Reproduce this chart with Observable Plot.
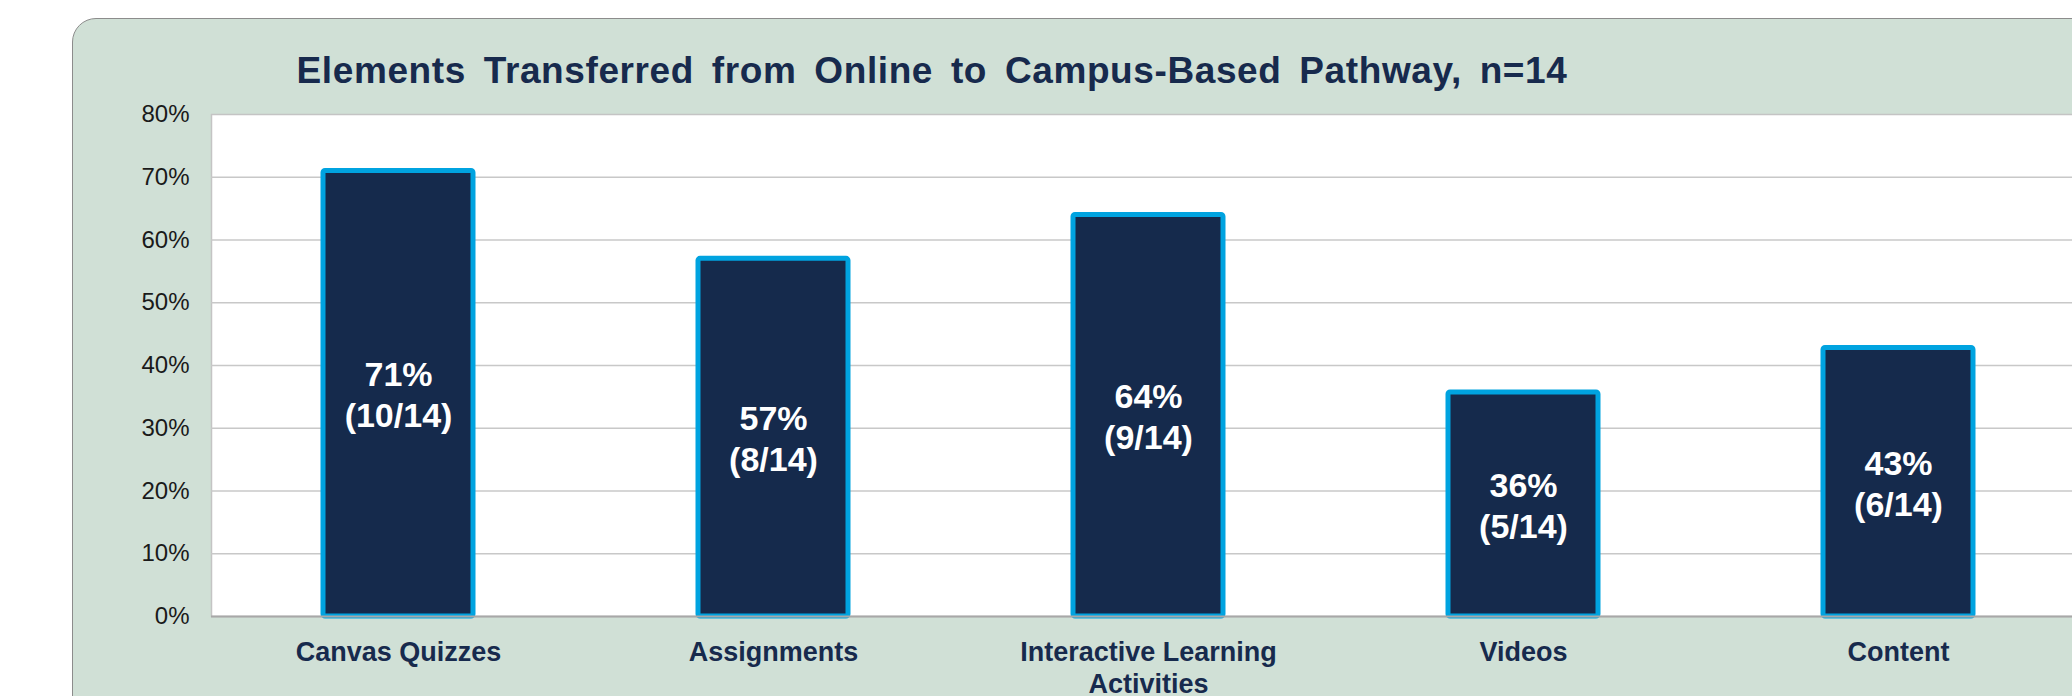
<!DOCTYPE html>
<html>
<head>
<meta charset="utf-8">
<script src="https://cdn.jsdelivr.net/npm/d3@7"></script>
<script src="https://cdn.jsdelivr.net/npm/@observablehq/plot@0.6"></script>
<style>
  html, body { margin: 0; padding: 0; background: #ffffff; width: 2072px; height: 696px; overflow: hidden; position: relative; }
  #panel { position: absolute; left: 72px; top: 18px; width: 2100px; height: 800px; box-sizing: border-box;
           background: #d0e0d6; border: 1.5px solid #8c8c8c; border-radius: 24px; }
  #title { position: absolute; left: 0; top: 53px; width: 1864px; text-align: center; line-height: 36px;
           font-family: "Liberation Sans", Arial, sans-serif; font-weight: bold; font-size: 37px; color: #172a4d;
           letter-spacing: 0.6px; word-spacing: 7px; white-space: nowrap; }
  #chart { position: absolute; left: 0; top: 0; width: 2100px; }
</style>
</head>
<body>
<div id="panel"></div>
<div id="chart"></div>
<div id="title">Elements Transferred from Online to Campus-Based Pathway, n=14</div>
<script>
// ---- data ----
const categories = ["Canvas Quizzes", "Assignments", "Interactive Learning Activities", "Videos", "Content"];
const tickLabels = ["Canvas Quizzes", "Assignments", "Interactive Learning\nActivities", "Videos", "Content"];
const shares = [0.71, 0.57, 0.64, 0.357, 0.428];
const percentLabels = ["71%", "57%", "64%", "36%", "43%"];
const countLabels = ["(10/14)", "(8/14)", "(9/14)", "(5/14)", "(6/14)"];
const yTicks = [0, 0.1, 0.2, 0.3, 0.4, 0.5, 0.6, 0.7, 0.8];
const yTickLabels = ["0%", "10%", "20%", "30%", "40%", "50%", "60%", "70%", "80%"];

const data = categories.map((c, i) => ({
  cat: c, share: shares[i], label: percentLabels[i] + "\n" + countLabels[i]
}));
const tickMap = new Map(categories.map((c, i) => [c, tickLabels[i]]));
const yLabelMap = new Map(yTicks.map((t, i) => [t, yTickLabels[i]]));

const font = "'Liberation Sans', Arial, sans-serif";
const navy = "#172a4d";

const chart = Plot.plot({
  width: 2100,
  height: 700,
  marginLeft: 211,
  marginRight: 14,
  marginTop: 114,
  marginBottom: 84,
  style: { background: "transparent", fontFamily: font, overflow: "visible" },
  x: { domain: categories, paddingInner: 0.6, paddingOuter: 0.3, axis: null },
  y: { domain: [0, 0.8], axis: null },
  marks: [
    Plot.frame({ fill: "#ffffff", stroke: "#c4c4c4", strokeWidth: 1.5 }),
    Plot.gridY(yTicks.filter(t => t > 0 && t < 0.8), { stroke: "#c8c8c8", strokeOpacity: 1, strokeWidth: 1.5 }),
    Plot.barY(data, { x: "cat", y: "share", fill: "#152a4c", stroke: "#00a3e0", strokeWidth: 5, rx: 2 }),
    Plot.ruleY([0], { stroke: "#a8a8a8", strokeWidth: 2 }),
    Plot.axisY(yTicks, {
      tickSize: 0, tickPadding: 22, fontSize: 24, fill: "#1a1a1a",
      tickFormat: d => yLabelMap.get(d), label: null
    }),
    Plot.axisX({
      tickSize: 0, tickPadding: 22, fontSize: 27, fontWeight: "bold", fill: navy, lineHeight: 1.19,
      tickFormat: d => tickMap.get(d), label: null
    }),
    Plot.text(data, {
      x: "cat", y: d => d.share / 2, text: "label", fill: "#ffffff",
      fontSize: 34, fontWeight: "bold", lineHeight: 1.2
    })
  ]
});
document.getElementById("chart").appendChild(chart);
</script>
</body>
</html>
